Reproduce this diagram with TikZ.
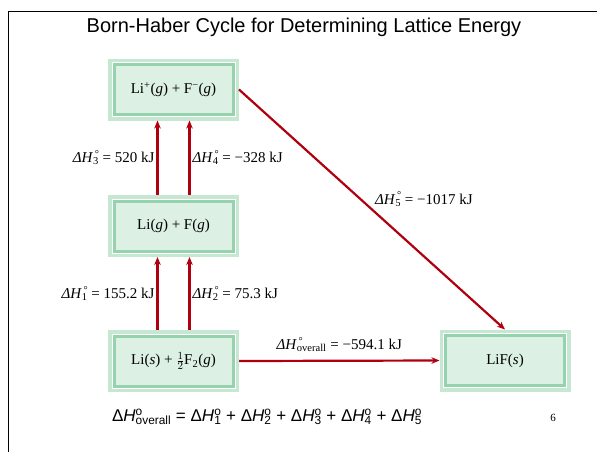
\documentclass[tikz,border=0pt]{standalone}
\usepackage{fontspec}
\setmainfont{Liberation Serif}
\setsansfont{Liberation Sans}
\usetikzlibrary{arrows.meta}
\definecolor{boxfill}{RGB}{220, 240, 227}
\definecolor{boxring}{RGB}{150, 210, 174}
\definecolor{boxrim}{RGB}{198, 232, 211}
\definecolor{arrowred}{RGB}{176, 0, 16}

\newcommand{\enth}[1]{\textit{ΔH}\rlap{\textsuperscript{\,°}}\textsubscript{#1}}
\newcommand{\enthsf}[1]{Δ\textit{H}\rlap{\textsuperscript{o}}\textsubscript{#1}}

\tikzset{
  species/.style={fill=boxfill, draw=boxring, line width=3pt,
    preaction={draw=boxrim, line width=12pt},
    preaction={draw=white, line width=5pt},
    minimum width=119pt, minimum height=50pt, outer sep=6pt,
    font=\fontsize{15}{17}\selectfont},
  enthalpy/.style={->, arrowred, line width=2.2pt},
  dh/.style={font=\fontsize{15}{17}\selectfont, text=black, inner sep=2pt}
}

\begin{document}
\begin{tikzpicture}[x=1pt, y=-1pt, >={Stealth[length=8pt, width=6.5pt]}]
  \useasboundingbox (0,0) rectangle (597,451);
  % Slide frame and title
  \draw[line width=1.6pt] (8.5,470) -- (8.5,11.5) -- (610,11.5);
  \node[font=\sffamily\fontsize{20}{22}\selectfont] (title) at (304,27)
    {Born-Haber Cycle for Determining Lattice Energy};

  % States of the cycle
  \node[species] (ions) at (173.5,89.5)
    {Li\textsuperscript{+}(\textit{g}) + F\textsuperscript{−}(\textit{g})};
  \node[species] (atoms) at (173.5,226) {Li(\textit{g}) + F(\textit{g})};
  \node[species] (elements) at (173.5,361)
    {Li(\textit{s}) + $\frac{1}{2}$F\textsubscript{2}(\textit{g})};
  \node[species] (salt) at (505,360.5) {LiF(\textit{s})};

  % Steps
  \draw[enthalpy] ([xshift=-16pt]elements.north) -- ([xshift=-16pt]atoms.south)
    node[midway, left, dh] (dh1) {\enth{1} = 155.2 kJ};
  \draw[enthalpy] ([xshift=16pt]elements.north) -- ([xshift=16pt]atoms.south)
    node[midway, right, dh] (dh2) {\enth{2} = 75.3 kJ};
  \draw[enthalpy] ([xshift=-16pt]atoms.north) -- ([xshift=-16pt]ions.south)
    node[midway, left, dh] (dh3) {\enth{3} = 520 kJ};
  \draw[enthalpy] ([xshift=16pt]atoms.north) -- ([xshift=16pt]ions.south)
    node[midway, right, dh] (dh4) {\enth{4} = −328 kJ};
  \draw[enthalpy] (ions.east) -- (salt.north)
    node[pos=0.5, anchor=south west, dh] (dh5) {\enth{5} = −1017 kJ};
  \draw[enthalpy] (elements.east) -- (salt.west)
    node[midway, above=6pt, dh] (dhall) {\enth{overall} = −594.1 kJ};

  % Hess's law
  \node[font=\sffamily\fontsize{17}{20}\selectfont] (hess) at (267,417)
    {\enthsf{overall} = \enthsf{1} + \enthsf{2} + \enthsf{3} + \enthsf{4} + \enthsf{5}};
  \node[font=\fontsize{11}{12}\selectfont] (page) at (553,418) {6};
\end{tikzpicture}
\end{document}
